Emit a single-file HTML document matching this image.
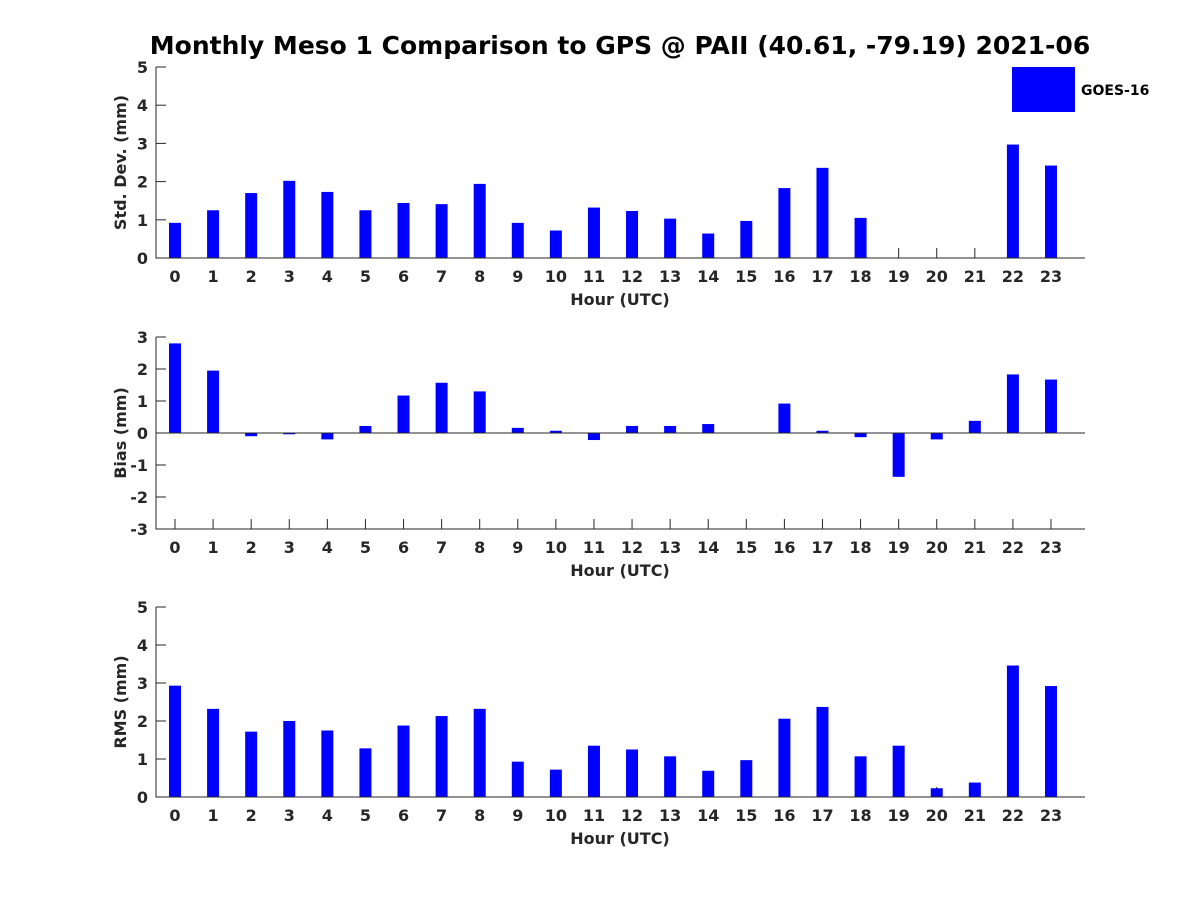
<!DOCTYPE html>
<html><head><meta charset="utf-8"><style>
body{margin:0;background:#fff}
svg text{font-family:"DejaVu Sans","Liberation Sans",sans-serif;font-weight:bold;fill:#262626}
</style></head><body>
<svg id="c" width="1200" height="900" xmlns="http://www.w3.org/2000/svg">
<text x="620" y="54" font-size="25" text-anchor="middle" style="fill:#000">Monthly Meso 1 Comparison to GPS @ PAII (40.61, -79.19) 2021-06</text>
<rect x="1012" y="67" width="63" height="45" fill="#0000ff"/>
<text x="1081" y="95" font-size="14" style="fill:#000">GOES-16</text>
</svg>
<script>
const hours = [0,1,2,3,4,5,6,7,8,9,10,11,12,13,14,15,16,17,18,19,20,21,22,23];
const stdValues = [0.92,1.25,1.7,2.02,1.73,1.25,1.44,1.41,1.94,0.92,0.72,1.32,1.23,1.03,0.64,0.97,1.83,2.36,1.05,0,0,0,2.97,2.42];
const biasValues = [2.8,1.95,-0.1,-0.04,-0.2,0.22,1.17,1.57,1.3,0.16,0.07,-0.22,0.22,0.22,0.28,0.0,0.92,0.07,-0.13,-1.37,-0.2,0.38,1.83,1.67];
const rmsValues = [2.93,2.32,1.72,2.0,1.75,1.28,1.88,2.13,2.32,0.93,0.72,1.35,1.25,1.07,0.69,0.97,2.06,2.37,1.07,1.35,0.23,0.38,3.46,2.92];
const stdTicks = [0,1,2,3,4,5];
const biasTicks = [-3,-2,-1,0,1,2,3];
const rmsTicks = [0,1,2,3,4,5];

const svg = document.getElementById('c');
const NS = 'http://www.w3.org/2000/svg';
function mk(tag, attrs){const e=document.createElementNS(NS,tag);for(const k in attrs)e.setAttribute(k,attrs[k]);svg.appendChild(e);return e;}
const X0=156, X1=1085;
function xs(h){return 175 + h*(1051-175)/23;}

function panel(key, values, ticks, yTop, yBot, ylab){
  const vmin=ticks[0], vmax=ticks[ticks.length-1];
  const ys=v=>yBot-(v-vmin)/(vmax-vmin)*(yBot-yTop);
  hours.forEach(h=>{
    const t=mk('line',{x1:xs(h),x2:xs(h),y1:yBot-10,y2:yBot,stroke:'#262626','stroke-width':1});
    
    
    const l=mk('text',{x:xs(h),y:yBot+24,'font-size':16,'text-anchor':'middle'});
    l.textContent=h;
    
    
  });
  ticks.forEach(v=>{
    const t=mk('line',{x1:X0,x2:X0+10,y1:ys(v),y2:ys(v),stroke:'#262626','stroke-width':1});
    
    
    const l=mk('text',{x:X0-8,y:ys(v)+6,'font-size':16,'text-anchor':'end'});
    l.textContent=v;
    
    
  });
  const zero=ys(0);
  values.forEach((v,i)=>{
    const y=Math.min(ys(v),zero), hgt=Math.abs(ys(v)-zero);
    const b=mk('rect',{x:xs(hours[i])-6,y:y,width:12,height:hgt,fill:'#0000ff'});
    
    
  });
  if(vmin<0){
    const z=mk('line',{x1:X0,x2:X1,y1:zero,y2:zero,stroke:'#262626','stroke-width':1});
    
    
  }
  const ax=mk('path',{d:`M${X0} ${yTop} V${yBot} H${X1}`,fill:'none',stroke:'#262626','stroke-width':1});
  
  
  const xl=mk('text',{x:620,y:yBot+47,'font-size':16,'text-anchor':'middle'});
  xl.textContent='Hour (UTC)';
  
  
  const yc=(yTop+yBot)/2;
  const yl=mk('text',{x:126,y:yc,'font-size':16,'text-anchor':'middle',transform:`rotate(-90 126 ${yc})`});
  yl.textContent=ylab;
  
  
}
panel('std', stdValues, stdTicks, 67, 258, 'Std. Dev. (mm)');
panel('bias', biasValues, biasTicks, 337, 529, 'Bias (mm)');
panel('rms', rmsValues, rmsTicks, 607, 797, 'RMS (mm)');
</script>
</body></html>
